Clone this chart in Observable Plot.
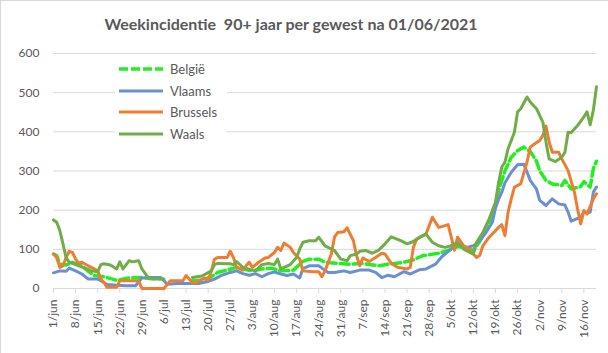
<!DOCTYPE html>
<html>
<head>
<meta charset="utf-8">
<script src="https://cdn.jsdelivr.net/npm/d3@7"></script>
<script src="https://cdn.jsdelivr.net/npm/@observablehq/plot@0.6"></script>
<style>
  html, body { margin: 0; padding: 0; background: #fff; }
  #wrap { position: relative; width: 608px; height: 353px; box-sizing: border-box;
          border-left: 1px solid #d9d9d9; border-top: 1px solid #d9d9d9; overflow: hidden; font-family: Lato, sans-serif; }
  #title { height: 40px; line-height: 46px; width: 580px; text-align: center; font-weight: bold;
           font-size: 16px; color: #595959; white-space: pre; }
  #legend { position: absolute; left: 114px; top: 57px; width: 112px; height: 88px; background: #fff; }
  #legend .row { position: absolute; left: 0; height: 20px; display: flex; align-items: center; }
  #legend span { font-size: 13px; color: #595959; margin-left: 5px; }
  svg text { fill: #595959; }
</style>
</head>
<body>
<div id="wrap">
  <div id="title">Weekincidentie  90+ jaar per gewest na 01/06/2021</div>
  <div id="chart"></div>
  <div id="legend"></div>
</div>
<script>
// ---- data (day offsets from 1 June 2021; null = missing) ----
const startDate = "2021-06-01";
const endDay = 172;
const tickLabels = ["1/jun","8/jun","15/jun","22/jun","29/jun","6/jul","13/jul","20/jul","27/jul","3/aug","10/aug","17/aug","24/aug","31/aug","7/sep","14/sep","21/sep","28/sep","5/okt","12/okt","19/okt","26/okt","2/nov","9/nov","16/nov"];
const tickDays = [0,7,14,21,28,35,42,49,56,63,70,77,84,91,98,105,112,119,126,133,140,147,154,161,168];
const yTicks = [0,100,200,300,400,500,600];

const seriesNames = ["België","Vlaams","Brussels","Waals"];

const belgieDays = [0,1,2,4,6,9,11,13,16,20,24,28,31,34,38,44,47,50,52,55,58,60,63,66,69,72,76,79,81,84,86,90,94,98,103,106,111,114,117,122,125,128,131,133,135,138,140,141,143,145,147,149,151,153,154,156,158,161,162,164,167,168,170,171,172];
const belgieVals = [88,84,62,60,67,58,44,33,30,21,27,28,25,25,null,20,21,30,41,47,54,50,45,50,52,45,47,69,75,75,67,64,62,64,58,62,67,73,84,90,97,107,103,97,120,165,215,250,300,335,352,361,350,325,301,276,267,263,276,254,260,273,259,306,325];

const vlaamsDays = [0,2,4,5,7,9,11,14,15,17,20,23,26,28,31,34,35,36,39,42,46,49,51,53,56,58,60,62,64,66,68,70,72,74,76,78,79,81,84,85,87,89,92,94,97,100,102,104,106,108,111,113,116,118,121,123,126,128,131,133,135,137,139,140,141,142,143,145,147,149,150,151,153,154,156,158,160,162,163,164,167,168,170,171,172];
const vlaamsVals = [40,45,44,52,45,37,24,24,20,10,8,7,7,27,28,28,20,11,13,13,13,18,24,33,41,45,38,34,38,30,38,42,37,33,37,27,51,58,58,52,41,41,45,41,47,47,41,28,34,30,43,37,48,50,62,81,101,114,105,109,122,143,169,205,228,246,270,297,316,317,297,276,254,225,212,229,216,213,195,172,182,195,195,246,259];

const brusselsDays = [0,1,2,3,4,5,6,7,8,9,11,12,14,15,16,17,20,21,27,28,35,37,41,42,44,45,48,49,50,51,52,55,56,57,58,60,61,62,63,65,67,68,70,71,72,73,75,76,78,79,82,84,85,86,88,89,90,92,93,95,96,97,98,100,102,104,105,107,109,112,113,114,115,118,120,122,123,125,126,127,128,130,132,134,135,136,138,141,142,143,144,145,146,148,150,151,152,154,155,156,157,158,160,161,163,165,166,167,168,169,171,172];
const brusselsVals = [88,79,54,58,79,95,92,75,64,67,58,54,45,24,15,3,3,20,20,0,0,20,20,33,15,15,27,21,45,75,79,79,95,79,54,47,58,67,54,67,78,79,92,105,97,116,105,92,75,45,43,43,30,45,88,131,143,145,155,122,84,58,78,69,79,90,88,64,54,50,54,105,126,139,182,156,158,163,131,98,131,108,98,79,84,109,131,156,163,135,195,229,259,267,323,361,367,378,391,415,374,348,348,331,301,246,203,165,199,190,229,242];

const waalsDays = [0,1,2,3,4,5,6,8,10,12,14,15,16,18,20,21,22,24,25,27,28,30,32,35,38,44,47,50,51,52,56,57,58,60,63,64,66,68,70,71,72,75,77,78,79,81,83,84,85,86,89,91,93,94,96,97,99,101,103,105,107,110,112,114,116,118,120,122,124,126,128,130,133,134,136,138,140,141,142,143,144,146,147,148,150,151,153,155,156,157,159,161,162,163,164,166,168,169,170,171,172];
const waalsVals = [175,169,148,114,79,67,64,58,52,45,43,61,63,60,50,68,50,71,68,71,50,28,24,24,null,28,32,45,61,64,63,61,69,54,47,45,61,64,61,75,50,61,79,101,118,122,122,131,120,109,97,75,71,84,88,95,97,90,98,114,132,122,114,120,131,139,118,109,105,109,118,100,88,118,143,178,220,271,310,323,357,399,451,459,489,476,459,425,374,331,324,335,348,399,398,416,438,451,418,455,515];

const colors = {"België":"#22ee22","Vlaams":"#6b8fd4","Brussels":"#ed7d31","Waals":"#70ad47"};

// ---- build table ----
const t0 = new Date(startDate + "T00:00:00Z");
const toDate = d => new Date(t0.getTime() + d * 864e5);
const mk = (name, days, vals) => days.map((d, i) => ({series: name, date: toDate(d), value: vals[i]}));
const belgie = mk("België", belgieDays, belgieVals);
const vlaams = mk("Vlaams", vlaamsDays, vlaamsVals);
const brussels = mk("Brussels", brusselsDays, brusselsVals);
const waals = mk("Waals", waalsDays, waalsVals);
const tickDates = tickDays.map(toDate);

const plot = Plot.plot({
  width: 607, height: 312,
  marginLeft: 52, marginRight: 12, marginTop: 12, marginBottom: 65,
  style: {fontFamily: "Lato, sans-serif", fontSize: "12px", color: "#595959", background: "transparent"},
  x: {type: "utc", domain: [toDate(0), toDate(endDay)]},
  y: {domain: [0, 600]},
  marks: [
    Plot.ruleY(yTicks, {stroke: "#d9d9d9", strokeWidth: 1}),
    Plot.axisY({ticks: yTicks, tickSize: 0, tickPadding: 14, tickFormat: d => String(d), label: null}),
    Plot.axisX({ticks: tickDates, tickFormat: (d, i) => tickLabels[i], tickRotate: -90, tickSize: 5, tickPadding: 6, stroke: "#d9d9d9", label: null}),
    Plot.line(belgie, {x: "date", y: "value", stroke: colors["België"], strokeWidth: 3.5, strokeDasharray: "9,4", strokeLinejoin: "round"}),
    Plot.line(vlaams, {x: "date", y: "value", stroke: colors["Vlaams"], strokeWidth: 3, strokeLinejoin: "round"}),
    Plot.line(brussels, {x: "date", y: "value", stroke: colors["Brussels"], strokeWidth: 3, strokeLinejoin: "round"}),
    Plot.line(waals, {x: "date", y: "value", stroke: colors["Waals"], strokeWidth: 3, strokeLinejoin: "round"})
  ]
});
document.getElementById("chart").appendChild(plot);

// ---- legend ----
const legend = document.getElementById("legend");
seriesNames.forEach((name, i) => {
  const row = document.createElement("div");
  row.className = "row";
  row.style.top = (1 + i * 21.6) + "px";
  const dash = name === "België" ? 'stroke-dasharray="9,3"' : "";
  const sw = name === "België" ? 3.5 : 3;
  row.innerHTML = `<svg width="50" height="20"><line x1="4" x2="48" y1="10" y2="10" stroke="${colors[name]}" stroke-width="${sw}" ${dash}/></svg><span>${name}</span>`;
  legend.appendChild(row);
});
</script>
</body>
</html>
